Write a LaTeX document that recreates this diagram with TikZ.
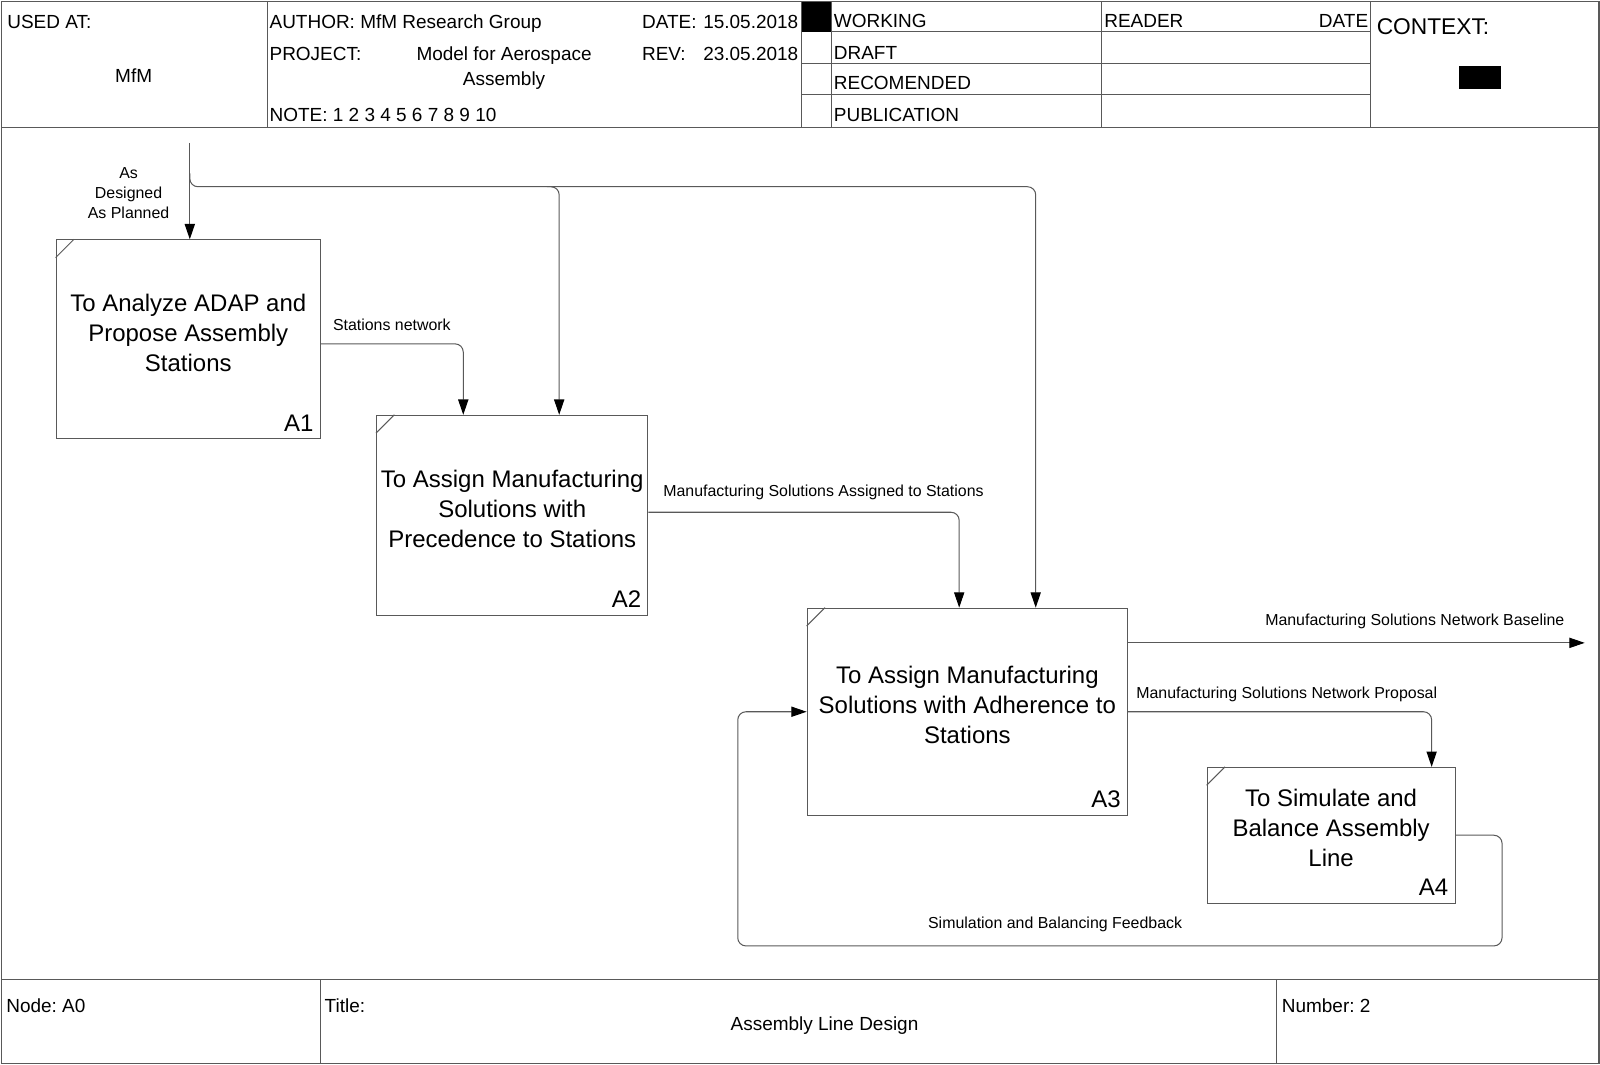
\documentclass[tikz,border=0pt]{standalone}
\usepackage{fontspec}
\setmainfont{Liberation Sans}
\usetikzlibrary{arrows.meta}
\usepackage{xcolor}
\frenchspacing

\newcommand{\boxfont}{\fontsize{23.5}{29.5}\selectfont}
\newcommand{\lblfont}{\fontsize{15.6}{19.5}\selectfont}
\newcommand{\hdrfont}{\fontsize{18.6}{22}\selectfont}

\begin{document}
\begin{tikzpicture}[x=1pt, y=-1pt,
    line/.style={draw=black!65, line width=1pt},
    flow/.style={line, rounded corners=8pt, -{Triangle[length=15pt,width=10pt,color=black]}},
    actbox/.style={line, rectangle, inner sep=0pt},
    acttext/.style={font=\boxfont, align=center},
    num/.style={font=\boxfont, anchor=base east, inner sep=0pt},
    lbl/.style={font=\lblfont, align=center},
    hdr/.style={font=\hdrfont, anchor=base west, inner sep=0pt}]
    \useasboundingbox (0,0) rectangle (1568,1043);

    % Frame, header and footer
    \draw[line] (1,1) rectangle (1567,1042);
    \draw[line] (1,125) -- (1567,125);
    \draw[line] (1,960) -- (1567,960);
    \foreach \x in {262,785,815,1079,1343}
        \draw[line] (\x,1) -- (\x,125);
    \foreach \y in {31,62,93}
        \draw[line] (785,\y) -- (1343,\y);
    \foreach \x in {314,1251}
        \draw[line] (\x,960) -- (\x,1042);
    \fill[black] (786,2) rectangle (814,31);
    \fill[black] (1430,65) rectangle (1471,87);

    \node[hdr] (usedat) at (7,28) {USED AT:};
    \node[font=\hdrfont, anchor=base, inner sep=0pt] (mfm) at (131,81) {MfM};
    \node[hdr] (author) at (264,28) {AUTHOR: MfM Research Group};
    \node[hdr] (project) at (264,59) {PROJECT:};
    \node[font=\hdrfont, anchor=base, inner sep=0pt] (proj1) at (494,59) {Model for Aerospace};
    \node[font=\hdrfont, anchor=base, inner sep=0pt] (proj2) at (494,84) {Assembly};
    \node[hdr] (note) at (264,119) {NOTE: 1 2 3 4 5 6 7 8 9 10};
    \node[hdr] (date) at (629,28) {DATE:};
    \node[hdr] (dateval) at (689,28) {15.05.2018};
    \node[hdr] (rev) at (629,59) {REV:};
    \node[hdr] (revval) at (689,59) {23.05.2018};
    \foreach \t/\y [count=\i] in {WORKING/27, DRAFT/58, RECOMENDED/88, PUBLICATION/119}
        \node[hdr] (status\i) at (817,\y) {\t};
    \node[hdr] (reader) at (1082,27) {READER};
    \node[font=\hdrfont, anchor=base east, inner sep=0pt] (rdate) at (1341,27) {DATE};
    \node[font=\fontsize{22.3}{26}\selectfont, anchor=base west, inner sep=0pt] (context) at (1349,34) {CONTEXT:};

    \node[hdr] (nodeid) at (6,992) {Node: A0};
    \node[hdr] (title) at (318,992) {Title:};
    \node[font=\hdrfont, anchor=base, inner sep=0pt] (titletext) at (808,1010) {Assembly Line Design};
    \node[hdr] (number) at (1256,992) {Number: 2};

    % Activity boxes
    \node[actbox, minimum width=259pt, minimum height=195pt] (a1) at (184.5,332.5) {};
    \node[actbox, minimum width=266pt, minimum height=196pt] (a2) at (502,505) {};
    \node[actbox, minimum width=314pt, minimum height=203pt] (a3) at (948,697.5) {};
    \node[actbox, minimum width=243pt, minimum height=133pt] (a4) at (1304.5,818.5) {};

    \node[acttext] (a1t) at ([yshift=6pt]a1.center) {To Analyze ADAP and\\Propose Assembly\\Stations};
    \node[acttext] (a2t) at ([yshift=6pt]a2.center) {To Assign Manufacturing\\Solutions with\\Precedence to Stations};
    \node[acttext] (a3t) at ([yshift=7pt]a3.center) {To Assign Manufacturing\\Solutions with Adherence to\\Stations};
    \node[acttext] (a4t) at ([yshift=7pt]a4.center) {To Simulate and\\Balance Assembly\\Line};

    \foreach \b/\n in {a1/A1, a2/A2, a3/A3, a4/A4} {
        \node[num] (\b n) at ([shift={(-7pt,8pt)}]\b.south east) {\n};
        \draw[line] ([yshift=-18pt]\b.north west) -- ([xshift=18pt]\b.north west);
    }

    % Controls
    \coordinate (ctl) at (186,140);
    \coordinate (j2) at (1015,183);
    \coordinate (j3) at (548,183);
    \draw[flow] (ctl) -- (ctl |- a1.north);
    \draw[flow] ([yshift=-30pt]ctl) |- (j2) -- (j2 |- a3.north);
    \draw[flow] ([xshift=-12pt]j3) -- (j3) -- (j3 |- a2.north);
    \node[lbl] (ctllbl) at (126,189) {As\\Designed\\As Planned};

    % Flows between activities
    \draw[flow] ([yshift=-4.5pt]a1.east) -| ([xshift=-48pt]a2.north);
    \node[lbl] (l12) at (384,318) {Stations network};

    \draw[flow] ([yshift=3pt]a2.east) -| ([xshift=-8pt]a3.north);
    \node[lbl] (l23) at (807,483) {Manufacturing Solutions Assigned to Stations};

    \coordinate (out) at (1553,630);
    \draw[flow] (a3.east |- out) -- (out);
    \node[lbl] (lout) at (1386.5,609) {Manufacturing Solutions Network Baseline};

    \draw[flow] (a3.east) -| ([xshift=98.5pt]a4.north);
    \node[lbl] (l34) at (1261,680) {Manufacturing Solutions Network Proposal};

    % Feedback loop
    \draw[flow] (a4.east) -- (1472,818.5) -- (1472,927) -- (723,927) -- (723,697.5) -- (a3.west);
    \node[lbl] (lfb) at (1034,906) {Simulation and Balancing Feedback};

\end{tikzpicture}
\end{document}
